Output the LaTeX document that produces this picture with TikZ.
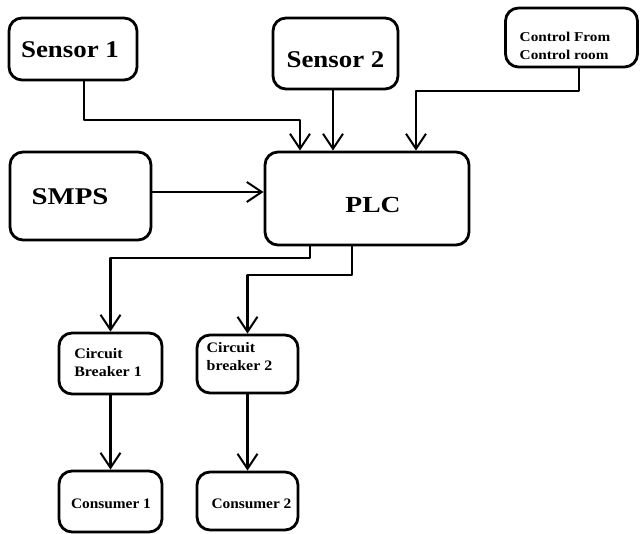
\documentclass[tikz,border=0pt]{standalone}
\usepackage{fontspec}
\setmainfont{Liberation Serif}
\usetikzlibrary{arrows.meta}
\newcommand{\tx}[4]{\raisebox{#2}[0pt][0pt]{\makebox[0pt]{\hspace*{#1}\hspace*{#1}\scalebox{#3}[1]{#4}}}}
\begin{document}
\begin{tikzpicture}[x=1pt,y=1pt,
  box/.style={draw=black,line width=2.8pt,rounded corners=13pt,font=\bfseries,inner sep=0pt},
  big/.style={font=\bfseries\fontsize{24}{26}\selectfont},
  small/.style={font=\bfseries\fontsize{14.5}{18}\selectfont},
  arr/.style={line width=2.4pt,-{Straight Barb[length=15pt,width=20pt,line width=2pt]}},
  line join=round]
\useasboundingbox[fill=white] (0,0) rectangle (640,534);
\node[box,big,minimum width=128pt,minimum height=62pt] (s1) at (73,485) {\tx{-3pt}{-9pt}{1.12}{Sensor 1}};
\node[box,big,minimum width=125pt,minimum height=71pt] (s2) at (335.5,480.5) {\tx{0pt}{-14pt}{1.12}{Sensor 2}};
\node[box,font=\bfseries\fontsize{13.5}{18}\selectfont,minimum width=132pt,minimum height=59pt] (ctl) at (571.5,496.5) {\tx{-6.5pt}{-13pt}{1.13}{\begin{tabular}{@{}l@{}}Control From\\Control room\end{tabular}}};
\node[box,big,minimum width=141pt,minimum height=88pt] (smps) at (80.5,338) {\tx{-10.5pt}{-9pt}{1.2}{SMPS}};
\node[box,font=\bfseries\fontsize{23}{25}\selectfont,minimum width=204pt,minimum height=93pt] (plc) at (367,335.5) {\tx{6pt}{-14pt}{1.2}{PLC}};
\node[box,small,minimum width=103pt,minimum height=61pt] (cb1) at (110.5,170.5) {\tx{-2.5pt}{-4pt}{1.1}{\begin{tabular}{@{}l@{}}Circuit\\Breaker 1\end{tabular}}};
\node[box,small,minimum width=101pt,minimum height=58pt] (cb2) at (247.5,170) {\tx{-8pt}{2.4pt}{1.1}{\begin{tabular}{@{}l@{}}Circuit\\breaker 2\end{tabular}}};
\node[box,small,minimum width=103pt,minimum height=61pt] (c1) at (110.5,32.5) {\tx{0.5pt}{-7pt}{1.06}{Consumer 1}};
\node[box,small,minimum width=101pt,minimum height=58pt] (c2) at (247.5,33) {\tx{4pt}{-7.5pt}{1.06}{Consumer 2}};
% connectors
\draw[arr] ([xshift=11pt]s1.south) |- ([xshift=-67pt]plc.north |- 0,414) -- ([xshift=-67pt]plc.north);
\draw[arr] ([xshift=-2.5pt]s2.south) -- ([xshift=-2.5pt]s2.south |- plc.north);
\draw[arr] ([xshift=7.5pt]ctl.south) |- ([xshift=49pt]plc.north |- 0,443) -- ([xshift=49pt]plc.north);
\draw[arr] ([yshift=4pt]smps.east) -- ([yshift=4pt]smps.east -| plc.west);
\draw[arr] ([xshift=-57pt]plc.south) |- (cb1.north |- 0,276) -- (cb1.north);
\draw[arr] ([xshift=-15pt]plc.south) |- (cb2.north |- 0,259) -- (cb2.north);
\draw[arr] (cb1.south) -- (c1.north);
\draw[arr] (cb2.south) -- (c2.north);
\end{tikzpicture}
\end{document}
